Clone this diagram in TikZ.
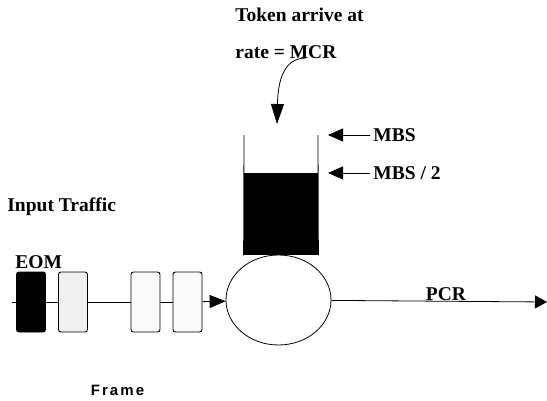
\documentclass[tikz,border=0pt]{standalone}
\usepackage{fontspec}
\setmainfont{Liberation Serif}
\newfontfamily\framefont[LetterSpace=14]{Liberation Sans}
\usepackage{tikz}
\usetikzlibrary{arrows.meta}
\usetikzlibrary{shapes.geometric}
\usetikzlibrary{positioning}
\tikzset{lbl/.style={font=\bfseries\fontsize{19.5}{22}\selectfont, inner sep=0pt}}
\tikzset{frm/.style={draw, rounded corners=2.5pt, line width=0.9pt, minimum width=29pt, minimum height=60pt, inner sep=0pt}}
\tikzset{arr/.style={-{Triangle[length=#1, width=13pt]}}}

\begin{document}
\begin{tikzpicture}[x=1pt, y=-1pt, line width=0.8pt]
\useasboundingbox (0,0) rectangle (547,400);
\node[lbl, anchor=west] (tok1) at (235,15) {Token arrive at};
\node[lbl, anchor=west] (tok2) at (235,52) {rate = MCR};
\coordinate (drop) at (306,58);
\coordinate (fill in) at (277,124);
\draw[arr=20pt] (drop) .. controls (284,58) and (278,80) .. (fill in);
\node[fill=black, minimum width=74pt, minimum height=82pt, inner sep=0pt] (tokens) at (281,214) {};
\coordinate (bktl) at (244,135);
\coordinate (bktr) at (318,135);
\draw (bktl) -- (tokens.south west);
\draw (bktr) -- (tokens.south east);
\node[lbl, anchor=west, inner xsep=3pt] (mbs) at (370,135) {MBS};
\node[lbl, anchor=west, inner xsep=3pt] (half) at (370,173) {MBS / 2};
\coordinate (full) at (328,135);
\coordinate (mid) at (328,173);
\draw[arr=15pt] (mbs.west) -- (full);
\draw[arr=15pt] (half.west) -- (mid);
\node[draw, ellipse, minimum width=105pt, minimum height=90pt, inner sep=0pt] (shaper) at (278.5,300) {};
\node[lbl, anchor=west] (input) at (7,207) {Input Traffic};
\node[lbl, anchor=west] (eomlbl) at (15,262) {EOM};
\coordinate (in) at (12,302);
\node[frm, fill=black] (eom) at (31,302) {};
\node[frm, fill=gray!12] (f1) at (73,302) {};
\node[frm, fill=gray!4] (f2) at (145.5,302) {};
\node[frm, fill=gray!4] (f3) at (187.5,302) {};
\draw (in) -- (eom);
\draw (eom) -- (f1);
\draw (f1) -- (f2);
\draw (f2) -- (f3);
\draw[arr=16pt] (f3) -- (shaper);
\coordinate (out) at (547,302);
\draw[arr=12pt] (shaper) -- (out);
\node[lbl, anchor=base] (pcr) at (446,300) {PCR};
\node[font=\framefont\bfseries\fontsize{15}{17}\selectfont, inner sep=0pt] (frame) at (117.5,390) {Frame};
\end{tikzpicture}
\end{document}
